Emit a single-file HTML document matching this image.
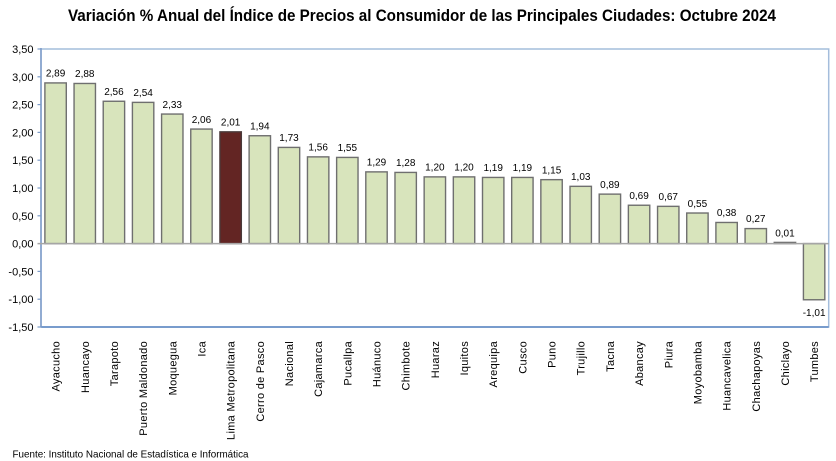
<!DOCTYPE html>
<html><head><meta charset="utf-8"><style>
html,body{margin:0;padding:0;background:#fff;}
svg{display:block;}
text{font-family:"Liberation Sans",Arial,sans-serif;fill:#000;}
.t{font-size:11px;text-anchor:end;}
.d{font-size:10px;text-anchor:middle;}
.c{font-size:11px;text-anchor:end;letter-spacing:0.3px;}
.b{fill:#d8e4bc;stroke:#6f6f6f;stroke-width:1.4;}
.m{fill:#632523;stroke:#4a3a3a;stroke-width:1.4;}
</style></head><body>
<svg width="836" height="461" viewBox="0 0 836 461" xmlns="http://www.w3.org/2000/svg">
<rect width="836" height="461" fill="#fff"/>
<text x="68" y="21" font-size="17" font-weight="bold" textLength="708" lengthAdjust="spacingAndGlyphs">Variación % Anual del Índice de Precios al Consumidor de las Principales Ciudades: Octubre 2024</text>

<rect x="41" y="49" width="787.7" height="278" fill="none" stroke="#a4bddc" stroke-width="1.5"/>
<line x1="41" y1="327" x2="828.7" y2="327" stroke="#5b85c2" stroke-width="1.5"/>
<line x1="41" y1="48" x2="41" y2="327.5" stroke="#7d9cc9" stroke-width="1.5"/>
<g stroke="#7d9cc9" stroke-width="1.2">
<line x1="37.5" y1="49" x2="41" y2="49"/><line x1="37.5" y1="76.8" x2="41" y2="76.8"/><line x1="37.5" y1="104.6" x2="41" y2="104.6"/><line x1="37.5" y1="132.4" x2="41" y2="132.4"/><line x1="37.5" y1="160.2" x2="41" y2="160.2"/><line x1="37.5" y1="188" x2="41" y2="188"/><line x1="37.5" y1="215.8" x2="41" y2="215.8"/><line x1="37.5" y1="271.4" x2="41" y2="271.4"/><line x1="37.5" y1="299.2" x2="41" y2="299.2"/><line x1="37.5" y1="327" x2="41" y2="327"/>
</g>

<g>
<text class="t" x="33.5" y="53">3,50</text>
<text class="t" x="33.5" y="80.8">3,00</text>
<text class="t" x="33.5" y="108.6">2,50</text>
<text class="t" x="33.5" y="136.4">2,00</text>
<text class="t" x="33.5" y="164.2">1,50</text>
<text class="t" x="33.5" y="192">1,00</text>
<text class="t" x="33.5" y="219.8">0,50</text>
<text class="t" x="33.5" y="247.6">0,00</text>
<text class="t" x="33.5" y="275.4">-0,50</text>
<text class="t" x="33.5" y="303.2">-1,00</text>
<text class="t" x="33.5" y="331">-1,50</text>
</g>

<g>
<rect class="b" x="44.89" y="82.92" width="21.4" height="160.68"/>
<rect class="b" x="74.06" y="83.47" width="21.4" height="160.13"/>
<rect class="b" x="103.23" y="101.26" width="21.4" height="142.34"/>
<rect class="b" x="132.41" y="102.38" width="21.4" height="141.22"/>
<rect class="b" x="161.58" y="114.05" width="21.4" height="129.55"/>
<rect class="b" x="190.76" y="129.06" width="21.4" height="114.54"/>
<rect class="m" x="219.93" y="131.84" width="21.4" height="111.76"/>
<rect class="b" x="249.11" y="135.74" width="21.4" height="107.86"/>
<rect class="b" x="278.28" y="147.41" width="21.4" height="96.19"/>
<rect class="b" x="307.46" y="156.86" width="21.4" height="86.74"/>
<rect class="b" x="336.63" y="157.42" width="21.4" height="86.18"/>
<rect class="b" x="365.80" y="171.88" width="21.4" height="71.72"/>
<rect class="b" x="394.98" y="172.43" width="21.4" height="71.17"/>
<rect class="b" x="424.15" y="176.88" width="21.4" height="66.72"/>
<rect class="b" x="453.33" y="176.88" width="21.4" height="66.72"/>
<rect class="b" x="482.50" y="177.44" width="21.4" height="66.16"/>
<rect class="b" x="511.68" y="177.44" width="21.4" height="66.16"/>
<rect class="b" x="540.85" y="179.66" width="21.4" height="63.94"/>
<rect class="b" x="570.02" y="186.33" width="21.4" height="57.27"/>
<rect class="b" x="599.20" y="194.12" width="21.4" height="49.48"/>
<rect class="b" x="628.37" y="205.24" width="21.4" height="38.36"/>
<rect class="b" x="657.55" y="206.35" width="21.4" height="37.25"/>
<rect class="b" x="686.72" y="213.02" width="21.4" height="30.58"/>
<rect class="b" x="715.90" y="222.47" width="21.4" height="21.13"/>
<rect class="b" x="745.07" y="228.59" width="21.4" height="15.01"/>
<rect class="b" x="774.24" y="242.4" width="21.4" height="1.2"/>
<rect class="b" x="803.42" y="243.6" width="21.4" height="56.16"/>
</g>
<line x1="37.5" y1="243.6" x2="828.7" y2="243.6" stroke="#a6a6a6" stroke-width="1.5"/>

<g>
<text class="d" x="55.59" y="76.5">2,89</text>
<text class="d" x="84.76" y="77">2,88</text>
<text class="d" x="113.93" y="95">2,56</text>
<text class="d" x="143.11" y="96">2,54</text>
<text class="d" x="172.28" y="108">2,33</text>
<text class="d" x="201.46" y="123">2,06</text>
<text class="d" x="230.63" y="125.5">2,01</text>
<text class="d" x="259.81" y="129.5">1,94</text>
<text class="d" x="288.98" y="141">1,73</text>
<text class="d" x="318.16" y="150.5">1,56</text>
<text class="d" x="347.33" y="151">1,55</text>
<text class="d" x="376.50" y="165.5">1,29</text>
<text class="d" x="405.68" y="166">1,28</text>
<text class="d" x="434.85" y="170.5">1,20</text>
<text class="d" x="464.03" y="170.5">1,20</text>
<text class="d" x="493.20" y="171">1,19</text>
<text class="d" x="522.38" y="171">1,19</text>
<text class="d" x="551.55" y="173.5">1,15</text>
<text class="d" x="580.72" y="180">1,03</text>
<text class="d" x="609.90" y="188">0,89</text>
<text class="d" x="639.07" y="199">0,69</text>
<text class="d" x="668.25" y="200">0,67</text>
<text class="d" x="697.42" y="207">0,55</text>
<text class="d" x="726.60" y="216">0,38</text>
<text class="d" x="755.77" y="222">0,27</text>
<text class="d" x="784.94" y="236.5">0,01</text>
<text class="d" x="814.12" y="316">-1,01</text>
</g>

<g>
<text class="c" transform="translate(59.6,341) rotate(-90)">Ayacucho</text>
<text class="c" transform="translate(88.8,341) rotate(-90)">Huancayo</text>
<text class="c" transform="translate(117.9,341) rotate(-90)">Tarapoto</text>
<text class="c" transform="translate(147.1,341) rotate(-90)">Puerto Maldonado</text>
<text class="c" transform="translate(176.3,341) rotate(-90)">Moquegua</text>
<text class="c" transform="translate(205.5,341) rotate(-90)">Ica</text>
<text class="c" transform="translate(234.6,341) rotate(-90)">Lima Metropolitana</text>
<text class="c" transform="translate(263.8,341) rotate(-90)">Cerro de Pasco</text>
<text class="c" transform="translate(293.0,341) rotate(-90)">Nacional</text>
<text class="c" transform="translate(322.2,341) rotate(-90)">Cajamarca</text>
<text class="c" transform="translate(351.3,341) rotate(-90)">Pucallpa</text>
<text class="c" transform="translate(380.5,341) rotate(-90)">Huánuco</text>
<text class="c" transform="translate(409.7,341) rotate(-90)">Chimbote</text>
<text class="c" transform="translate(438.9,341) rotate(-90)">Huaraz</text>
<text class="c" transform="translate(468.0,341) rotate(-90)">Iquitos</text>
<text class="c" transform="translate(497.2,341) rotate(-90)">Arequipa</text>
<text class="c" transform="translate(526.4,341) rotate(-90)">Cusco</text>
<text class="c" transform="translate(555.6,341) rotate(-90)">Puno</text>
<text class="c" transform="translate(584.7,341) rotate(-90)">Trujillo</text>
<text class="c" transform="translate(613.9,341) rotate(-90)">Tacna</text>
<text class="c" transform="translate(643.1,341) rotate(-90)">Abancay</text>
<text class="c" transform="translate(672.3,341) rotate(-90)">Piura</text>
<text class="c" transform="translate(701.4,341) rotate(-90)">Moyobamba</text>
<text class="c" transform="translate(730.6,341) rotate(-90)">Huancavelica</text>
<text class="c" transform="translate(759.8,341) rotate(-90)">Chachapoyas</text>
<text class="c" transform="translate(788.9,341) rotate(-90)">Chiclayo</text>
<text class="c" transform="translate(818.1,341) rotate(-90)">Tumbes</text>
</g>

<text x="12.5" y="457.5" font-size="10.5" textLength="236" lengthAdjust="spacingAndGlyphs">Fuente: Instituto  Nacional de Estadística  e Informática</text>
</svg>
</body></html>
